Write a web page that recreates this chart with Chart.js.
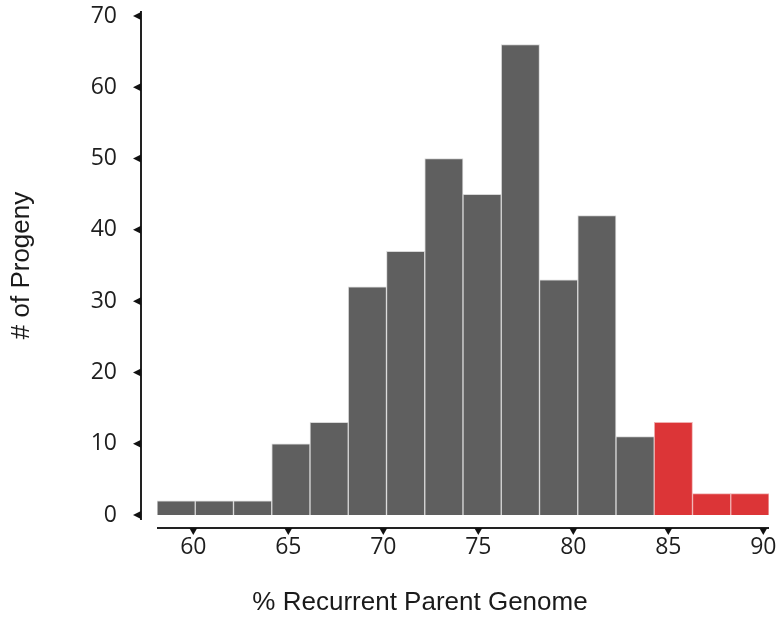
<!DOCTYPE html>
<html>
<head>
<meta charset="utf-8">
<script src="https://cdn.jsdelivr.net/npm/chart.js@4"></script>
<style>
  html, body { margin: 0; padding: 0; background: #fff; }
</style>
</head>
<body>
<canvas id="hist" width="781" height="618"></canvas>
<script>
// histogram bins (centres), counts per bin, x tick labels
const binCenters = [59, 61, 63, 65, 67, 69, 71, 73, 75, 77, 79, 81, 83, 85, 87, 89];
const progeny = [2, 2, 2, 10, 13, 32, 37, 50, 45, 66, 33, 42, 11, 13, 3, 3];
const xTicks = [60, 65, 70, 75, 80, 85, 90];
const selectedFrom = 84;

const tickFont = { family: '"Open Sans", sans-serif', size: 23 };
const titleFont = { family: '"Liberation Sans", Arial, sans-serif', size: 26 };

// axis lines drawn offset from the plot, with small triangle ticks
const axisMarks = {
  id: 'axisMarks',
  afterDraw(chart) {
    const { ctx, chartArea: a, scales: { xt, y } } = chart;
    ctx.save();
    ctx.strokeStyle = '#222';
    ctx.fillStyle = '#111';
    ctx.lineWidth = 2;

    const ax = a.left - 16;
    ctx.beginPath();
    ctx.moveTo(ax, a.top - 5);
    ctx.lineTo(ax, a.bottom + 5);
    ctx.stroke();
    y.ticks.forEach(t => {
      const py = y.getPixelForValue(t.value);
      ctx.beginPath();
      ctx.moveTo(ax, py - 4);
      ctx.lineTo(ax - 8, py);
      ctx.lineTo(ax, py + 4);
      ctx.closePath();
      ctx.fill();
    });

    const ay = a.bottom + 13;
    ctx.beginPath();
    ctx.moveTo(a.left, ay);
    ctx.lineTo(a.right, ay);
    ctx.stroke();
    xt.ticks.forEach(t => {
      const px = xt.getPixelForValue(t.value);
      ctx.beginPath();
      ctx.moveTo(px - 4, ay);
      ctx.lineTo(px + 4, ay);
      ctx.lineTo(px, ay + 7);
      ctx.closePath();
      ctx.fill();
    });

    ctx.font = titleFont.size + 'px ' + titleFont.family;
    ctx.fillStyle = '#1a1a1a';
    ctx.textAlign = 'center';
    ctx.textBaseline = 'middle';
    ctx.fillText('% Recurrent Parent Genome', 420, 603);
    ctx.restore();
  }
};

new Chart(document.getElementById('hist'), {
  type: 'bar',
  data: {
    datasets: [{
      label: '# of Progeny',
      data: binCenters.map((c, i) => ({ x: c, y: progeny[i] })),
      backgroundColor: binCenters.map(c => c > selectedFrom ? '#dc3537' : '#5f5f5f'),
      borderColor: binCenters.map(c => c > selectedFrom ? '#f0b0b0' : '#d8d8d8'),
      borderWidth: 1,
      barPercentage: 1,
      categoryPercentage: 1
    }]
  },
  options: {
    responsive: false,
    animation: false,
    layout: { padding: { top: 16, right: 12, left: 0, bottom: 0 } },
    plugins: {
      legend: { display: false },
      tooltip: { enabled: false }
    },
    scales: {
      // bars sit on this one
      x: {
        type: 'linear',
        min: 58,
        max: 90,
        offset: false,
        display: false
      },
      // tick marks in the original sit a touch left of the bin edges
      xt: {
        type: 'linear',
        position: 'bottom',
        min: 58.09,
        max: 90.3,
        offset: false,
        grid: { display: false, drawTicks: false },
        border: { display: false },
        ticks: { font: tickFont, color: '#1e1e1e', padding: 19 },
        afterBuildTicks(s) { s.ticks = xTicks.map(v => ({ value: v })); },
        afterFit(s) {
          s.height = 103;
          s.paddingLeft = 0;
          s.paddingRight = 0;
        }
      },
      y: {
        min: 0,
        max: 70,
        grid: { display: false, drawTicks: false },
        border: { display: false },
        ticks: { stepSize: 10, font: tickFont, color: '#1e1e1e', padding: 40 },
        title: {
          display: true,
          text: '# of Progeny',
          font: titleFont,
          color: '#1a1a1a',
          padding: { top: 6, bottom: 0 }
        },
        afterFit(s) {
          s.width = 157;
          s.paddingTop = 0;
          s.paddingBottom = 0;
        }
      }
    }
  },
  plugins: [axisMarks]
});
</script>
</body>
</html>
